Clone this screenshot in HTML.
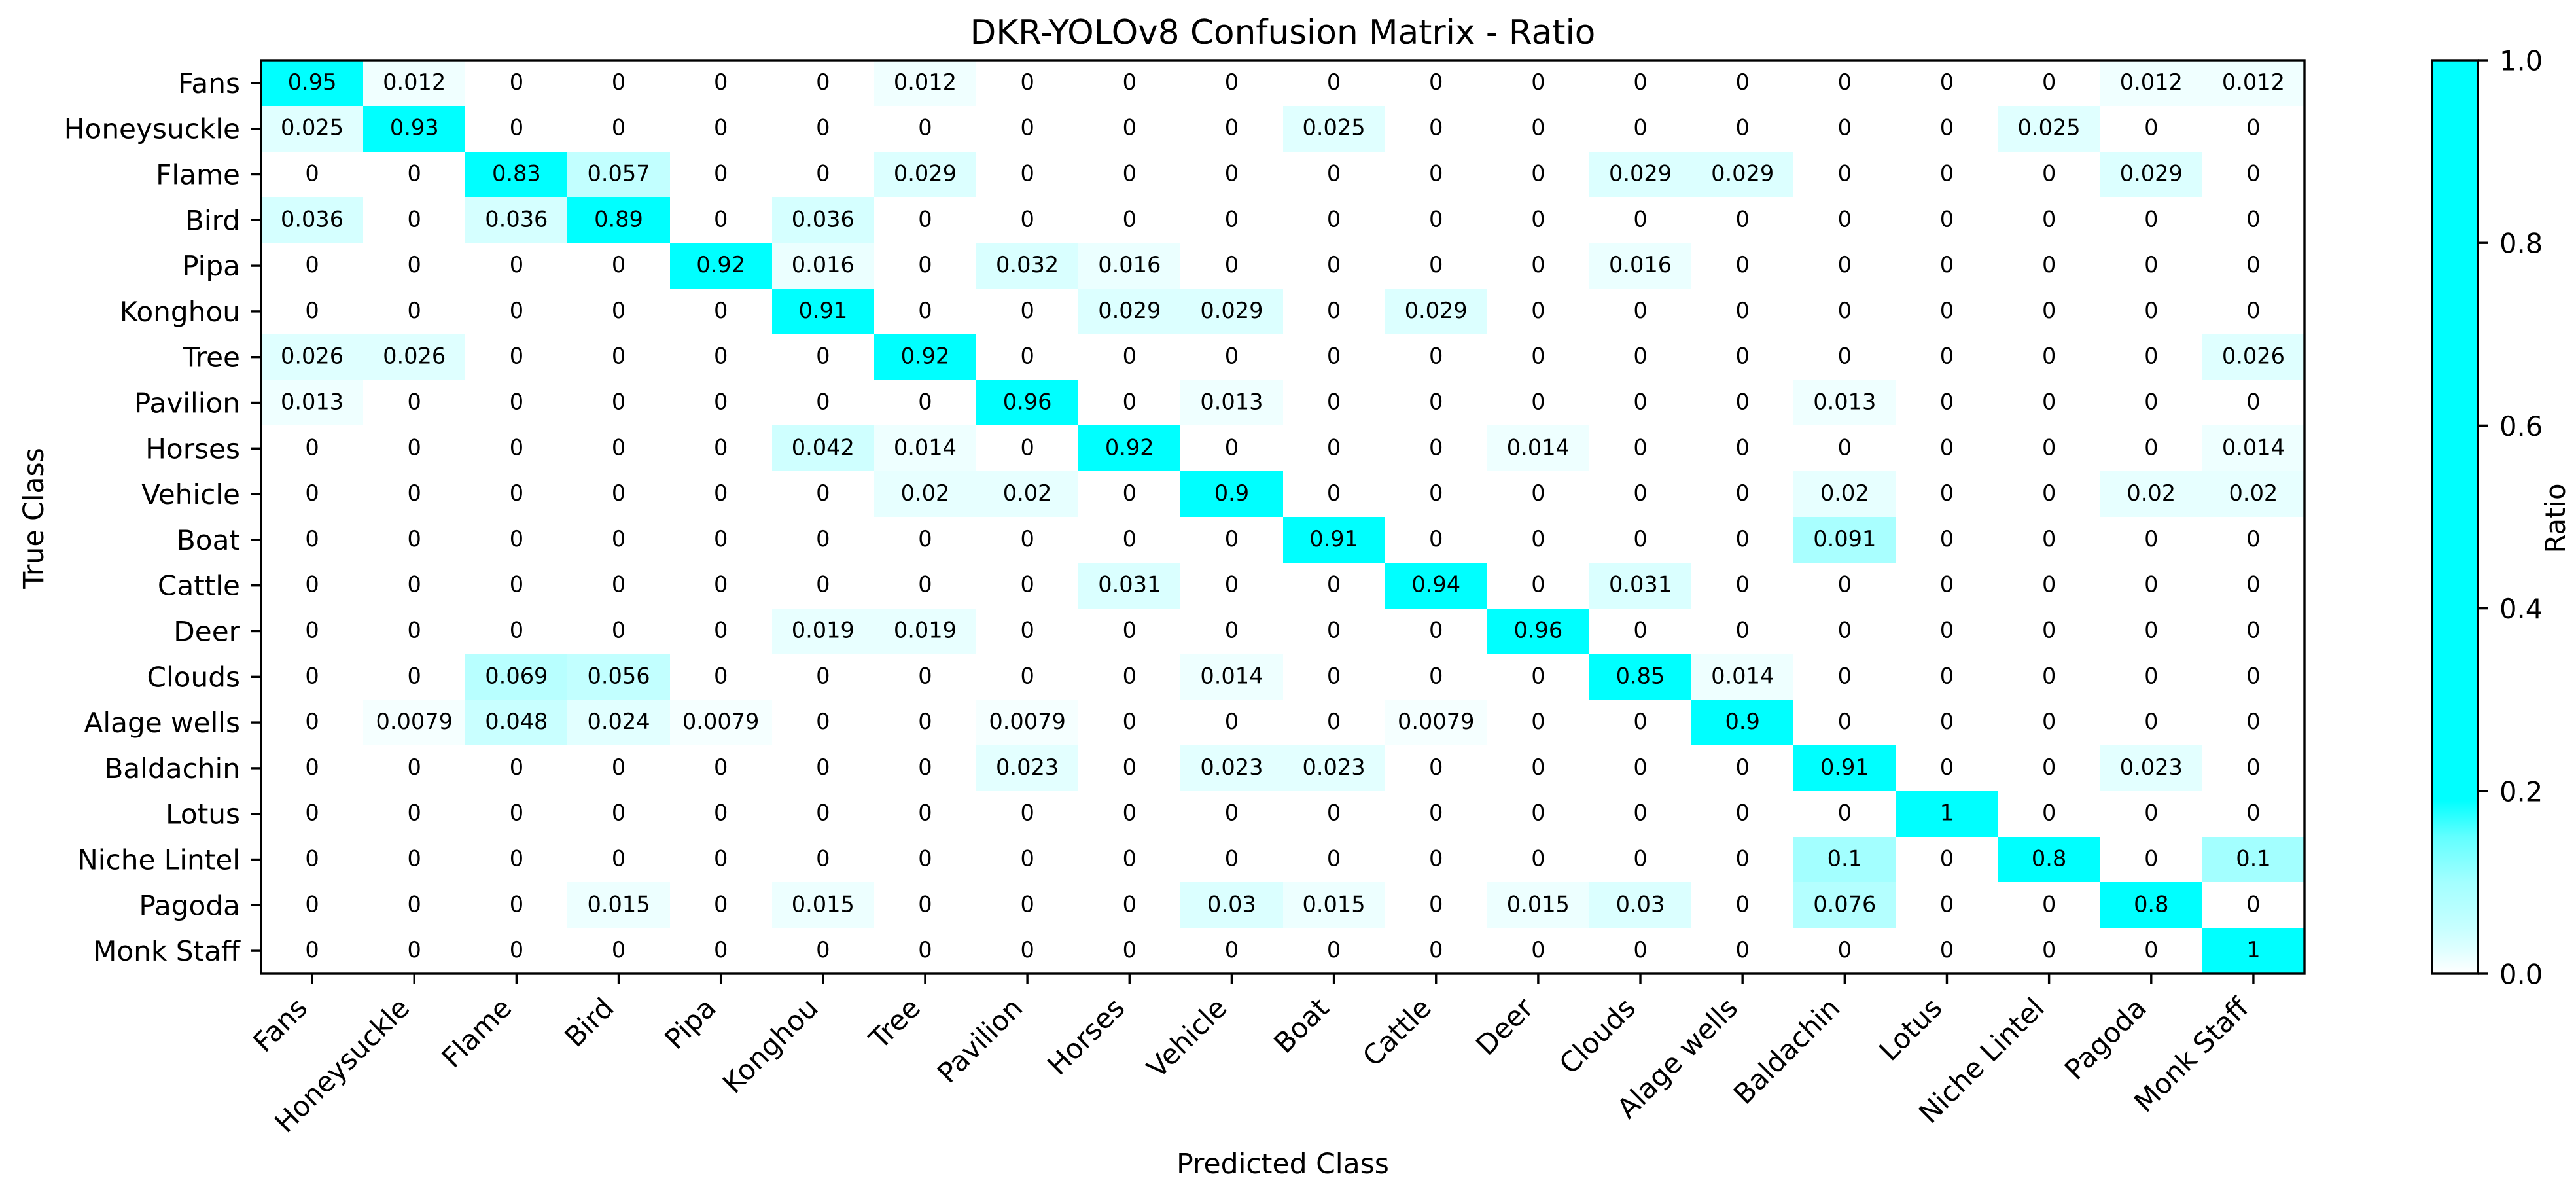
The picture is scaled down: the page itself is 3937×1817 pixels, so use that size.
<!DOCTYPE html>
<html lang="en">
<head>
<meta charset="utf-8">
<title>DKR-YOLOv8 Confusion Matrix - Ratio</title>
<style>
html,body{margin:0;padding:0;background:#fff;}
#chart{display:block;position:absolute;left:0;top:0;}
text{font-family:"DejaVu Sans","Liberation Sans",sans-serif;fill:#000;}
</style>
</head>
<body>
<svg id="chart" xmlns="http://www.w3.org/2000/svg" width="3937" height="1817" viewBox="0 0 3937 1817">
<rect x="0" y="0" width="3937" height="1817" fill="#ffffff"/>
<text id="title" x="1960.5" y="67" font-size="51.6" text-anchor="middle">DKR-YOLOv8 Confusion Matrix - Ratio</text>
<text id="xtitle" x="1960.5" y="1793" font-size="42.5" text-anchor="middle">Predicted Class</text>
<text id="ytitle" x="66" y="792" font-size="42.5" text-anchor="middle" transform="rotate(-90 66 792)">True Class</text>
<text id="cbtitle" x="3920" y="792" font-size="41.67" text-anchor="middle" transform="rotate(-90 3920 792)">Ratio</text>
<g id="cells"></g>
<g id="annots"></g>
<g id="xaxis"></g>
<g id="yaxis"></g>
<g id="frame"></g>
<g id="colorbar"></g>
</svg>
<script>
const classes = ["Fans","Honeysuckle","Flame","Bird","Pipa","Konghou","Tree","Pavilion","Horses","Vehicle","Boat","Cattle","Deer","Clouds","Alage wells","Baldachin","Lotus","Niche Lintel","Pagoda","Monk Staff"];
const rowFans        = [0.95,0.012,0,0,0,0,0.012,0,0,0,0,0,0,0,0,0,0,0,0.012,0.012];
const rowHoneysuckle = [0.025,0.93,0,0,0,0,0,0,0,0,0.025,0,0,0,0,0,0,0.025,0,0];
const rowFlame       = [0,0,0.83,0.057,0,0,0.029,0,0,0,0,0,0,0.029,0.029,0,0,0,0.029,0];
const rowBird        = [0.036,0,0.036,0.89,0,0.036,0,0,0,0,0,0,0,0,0,0,0,0,0,0];
const rowPipa        = [0,0,0,0,0.92,0.016,0,0.032,0.016,0,0,0,0,0.016,0,0,0,0,0,0];
const rowKonghou     = [0,0,0,0,0,0.91,0,0,0.029,0.029,0,0.029,0,0,0,0,0,0,0,0];
const rowTree        = [0.026,0.026,0,0,0,0,0.92,0,0,0,0,0,0,0,0,0,0,0,0,0.026];
const rowPavilion    = [0.013,0,0,0,0,0,0,0.96,0,0.013,0,0,0,0,0,0.013,0,0,0,0];
const rowHorses      = [0,0,0,0,0,0.042,0.014,0,0.92,0,0,0,0.014,0,0,0,0,0,0,0.014];
const rowVehicle     = [0,0,0,0,0,0,0.02,0.02,0,0.9,0,0,0,0,0,0.02,0,0,0.02,0.02];
const rowBoat        = [0,0,0,0,0,0,0,0,0,0,0.91,0,0,0,0,0.091,0,0,0,0];
const rowCattle      = [0,0,0,0,0,0,0,0,0.031,0,0,0.94,0,0.031,0,0,0,0,0,0];
const rowDeer        = [0,0,0,0,0,0.019,0.019,0,0,0,0,0,0.96,0,0,0,0,0,0,0];
const rowClouds      = [0,0,0.069,0.056,0,0,0,0,0,0.014,0,0,0,0.85,0.014,0,0,0,0,0];
const rowAlage       = [0,0.0079,0.048,0.024,0.0079,0,0,0.0079,0,0,0,0.0079,0,0,0.9,0,0,0,0,0];
const rowBaldachin   = [0,0,0,0,0,0,0,0.023,0,0.023,0.023,0,0,0,0,0.91,0,0,0.023,0];
const rowLotus       = [0,0,0,0,0,0,0,0,0,0,0,0,0,0,0,0,1,0,0,0];
const rowNiche       = [0,0,0,0,0,0,0,0,0,0,0,0,0,0,0,0.1,0,0.8,0,0.1];
const rowPagoda      = [0,0,0,0.015,0,0.015,0,0,0,0.03,0.015,0,0.015,0.03,0,0.076,0,0,0.8,0];
const rowMonk        = [0,0,0,0,0,0,0,0,0,0,0,0,0,0,0,0,0,0,0,1];
const matrix = [rowFans,rowHoneysuckle,rowFlame,rowBird,rowPipa,rowKonghou,rowTree,rowPavilion,rowHorses,rowVehicle,rowBoat,rowCattle,rowDeer,rowClouds,rowAlage,rowBaldachin,rowLotus,rowNiche,rowPagoda,rowMonk];
const colorbarTicks = [0,0.2,0.4,0.6,0.8,1];

const NS = "http://www.w3.org/2000/svg";
const plotLeft = 399, plotRight = 3522, plotTop = 92, plotBottom = 1488;
const barLeft = 3717, barRight = 3787;
const tickLen = 15, lineW = 3.4;

function xBand(i){ return plotLeft + (plotRight - plotLeft) * i / classes.length; }
function yBand(i){ return plotTop + (plotBottom - plotTop) * i / classes.length; }
function yBar(v){ return plotBottom - (plotBottom - plotTop) * v; }

/* colour scale: value -> white-to-cyan amount */
const scaleDomain = [0,0.0125,0.025,0.05,0.07,0.1,0.15,0.19,1];
const scaleAmount = [0,0.06,0.12,0.22,0.28,0.36,0.62,1,1];
function cellColor(v){
  let a = 1;
  for (let k = 1; k < scaleDomain.length; k++) {
    if (v <= scaleDomain[k]) {
      const t = (v - scaleDomain[k-1]) / (scaleDomain[k] - scaleDomain[k-1]);
      a = scaleAmount[k-1] + t * (scaleAmount[k] - scaleAmount[k-1]);
      break;
    }
  }
  const r = Math.round(255 * (1 - a));
  return "rgb(" + r + ",255,255)";
}
function el(parent, tag, attrs, txt){
  const e = document.createElementNS(NS, tag);
  for (const k in attrs) e.setAttribute(k, attrs[k]);
  if (txt !== undefined) e.textContent = txt;
  parent.appendChild(e);
  return e;
}
const svg = document.getElementById("chart");
const cellsG = document.getElementById("cells");
const annotsG = document.getElementById("annots");
const xG = document.getElementById("xaxis");
const yG = document.getElementById("yaxis");
const frameG = document.getElementById("frame");
const barG = document.getElementById("colorbar");

matrix.forEach(function(row, r){
  row.forEach(function(v, c){
    const x0 = Math.round(xBand(c)), x1 = Math.round(xBand(c+1));
    const y0 = Math.round(yBand(r)), y1 = Math.round(yBand(r+1));
    const rect = el(cellsG, "rect", {x:x0, y:y0, width:x1-x0, height:y1-y0, fill:cellColor(v), "shape-rendering":"crispEdges"});
    
    
    const t = el(annotsG, "text", {x:(xBand(c)+xBand(c+1))/2, y:(yBand(r)+yBand(r+1))/2+10, "font-size":33.6, "text-anchor":"middle"}, String(v));
    
    
  });
});

classes.forEach(function(name, i){
  const cx = (xBand(i)+xBand(i+1))/2;
  const cy = (yBand(i)+yBand(i+1))/2;
  const xt = el(xG, "line", {x1:cx, x2:cx, y1:plotBottom, y2:plotBottom+tickLen, stroke:"#000", "stroke-width":lineW});
  
  
  const ax = cx - 5, ay = 1543;
  const xl = el(xG, "text", {x:ax, y:ay, "font-size":42.2, "text-anchor":"end", transform:"rotate(-45 "+ax+" "+ay+")"}, name);
  
  
  const yt = el(yG, "line", {x1:plotLeft-tickLen, x2:plotLeft, y1:cy, y2:cy, stroke:"#000", "stroke-width":lineW});
  
  
  const yl = el(yG, "text", {x:367, y:cy+15, "font-size":42.2, "text-anchor":"end"}, name);
  
  
});

const frame = el(frameG, "rect", {x:plotLeft, y:plotTop, width:plotRight-plotLeft, height:plotBottom-plotTop, fill:"none", stroke:"#000", "stroke-width":lineW});



/* colorbar gradient built from the same colour scale */
const defs = el(svg, "defs", {});
const grad = el(defs, "linearGradient", {id:"cbGrad", x1:0, y1:1, x2:0, y2:0});
scaleDomain.forEach(function(v){
  el(grad, "stop", {offset:v, "stop-color":cellColor(v)});
});
const bar = el(barG, "rect", {x:barLeft, y:plotTop, width:barRight-barLeft, height:plotBottom-plotTop, fill:"url(#cbGrad)", stroke:"#000", "stroke-width":lineW});


colorbarTicks.forEach(function(v){
  const y = yBar(v);
  const t = el(barG, "line", {x1:barRight, x2:barRight+tickLen, y1:y, y2:y, stroke:"#000", "stroke-width":lineW});
  
  
  const l = el(barG, "text", {x:3820, y:y+15.5, "font-size":41.67}, v.toFixed(1));
  
  
});
</script>
</body>
</html>
